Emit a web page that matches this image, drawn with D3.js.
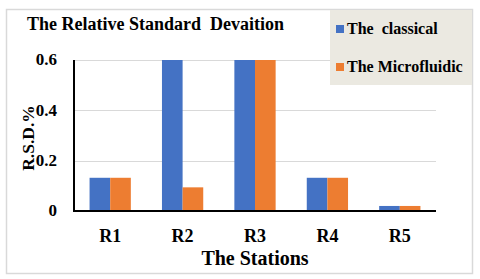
<!DOCTYPE html>
<html lang="en">
<head>
  <meta charset="UTF-8">
  <title>The Relative Standard Devaition</title>
  <script src="https://d3js.org/d3.v7.min.js"></script>
</head>
<body style="margin:0; background:#fff">
  <div id="chart"></div>
  <script>
    // Chart data
    const stations = ["R1", "R2", "R3", "R4", "R5"];
    const seriesNames = ["The  classical", "The Microfluidic"];
    const classical = [0.132, 0.6, 0.6, 0.132, 0.02];
    const microfluidic = [0.132, 0.094, 0.6, 0.132, 0.02];
    const yTicks = [0, 0.2, 0.4, 0.6];
    const colors = ["#4472C4", "#ED7D31"];

    const width = 480;
    const height = 279;
    const margin = {top: 60, right: 44, bottom: 68, left: 74};

    // serif bold text helper
    function label(sel, size) {
      return sel
        .attr("font-family", "Liberation Serif")
        .attr("font-weight", "bold")
        .attr("font-size", size)
        .attr("fill", "#000");
    }

    const svg = d3.select("#chart")
      .append("svg")
      .attr("width", width)
      .attr("height", height);

    // outer frame
    svg.append("rect")
      .attr("x", 6.5)
      .attr("y", 9.5)
      .attr("width", 466)
      .attr("height", 264)
      .attr("fill", "#fff")
      .attr("stroke", "#d9d9d9")
      .attr("stroke-width", 1.5);

    const x = d3.scaleBand()
      .domain(stations)
      .range([margin.left, width - margin.right])
      .paddingInner(0.43)
      .paddingOuter(0.215);

    const xSub = d3.scaleBand()
      .domain(seriesNames)
      .range([0, x.bandwidth()]);

    const y = d3.scaleLinear()
      .domain([0, 0.6])
      .range([height - margin.bottom, margin.top]);

    // gridlines
    svg.append("g")
      .selectAll("line")
      .data(yTicks.filter(d => d > 0))
      .join("line")
      .attr("x1", margin.left)
      .attr("x2", width - margin.right)
      .attr("y1", d => Math.round(y(d)) + 0.5)
      .attr("y2", d => Math.round(y(d)) + 0.5)
      .attr("stroke", "#d9d9d9")
      .attr("stroke-width", 1);

    // bars
    const series = [classical, microfluidic];
    series.forEach((values, s) => {
      svg.append("g")
        .selectAll("rect")
        .data(values)
        .join("rect")
        .attr("x", (d, i) => x(stations[i]) + xSub(seriesNames[s]))
        .attr("y", d => y(d))
        .attr("width", xSub.bandwidth())
        .attr("height", d => y(0) - y(d))
        .attr("fill", colors[s]);
    });

    // axes lines
    svg.append("line")
      .attr("x1", margin.left)
      .attr("x2", margin.left)
      .attr("y1", y(0.6))
      .attr("y2", y(0) + 1)
      .attr("stroke", "#000")
      .attr("stroke-width", 2);

    svg.append("line")
      .attr("x1", margin.left - 1)
      .attr("x2", width - margin.right)
      .attr("y1", y(0))
      .attr("y2", y(0))
      .attr("stroke", "#000")
      .attr("stroke-width", 2);

    // y tick labels
    svg.append("g")
      .selectAll("text")
      .data(yTicks)
      .join("text")
      .attr("x", 57)
      .attr("y", d => y(d))
      .attr("dy", "0.32em")
      .attr("text-anchor", "end")
      .call(label, 17)
      .text(d => d === 0 ? "0" : d.toFixed(1));

    // x tick labels
    svg.append("g")
      .selectAll("text")
      .data(stations)
      .join("text")
      .attr("x", d => x(d) + x.bandwidth() / 2)
      .attr("y", 242)
      .attr("text-anchor", "middle")
      .call(label, 18)
      .text(d => d);

    // axis titles
    svg.append("text")
      .attr("x", 255)
      .attr("y", 265)
      .attr("text-anchor", "middle")
      .call(label, 20)
      .text("The Stations");

    svg.append("text")
      .attr("transform", "translate(34,138) rotate(-90)")
      .attr("text-anchor", "middle")
      .call(label, 17.5)
      .text("R.S.D.%");

    // title
    svg.append("text")
      .attr("x", 27)
      .attr("y", 30)
      .call(label, 18)
      .style("white-space", "pre")
      .text("The Relative Standard  Devaition");

    // legend
    const legend = svg.append("g");
    legend.append("rect")
      .attr("x", 330)
      .attr("y", 10)
      .attr("width", 142)
      .attr("height", 75)
      .attr("fill", "#ebe9e1");

    const items = legend.selectAll("g")
      .data(seriesNames)
      .join("g")
      .attr("transform", (d, i) => `translate(336,${34 + i * 38})`);

    items.append("rect")
      .attr("x", 0)
      .attr("y", -9)
      .attr("width", 8)
      .attr("height", 8)
      .attr("fill", (d, i) => colors[i]);

    items.append("text")
      .attr("x", 11)
      .attr("y", 0)
      .call(label, 16)
      .style("white-space", "pre")
      .text(d => d);
  </script>
</body>
</html>
